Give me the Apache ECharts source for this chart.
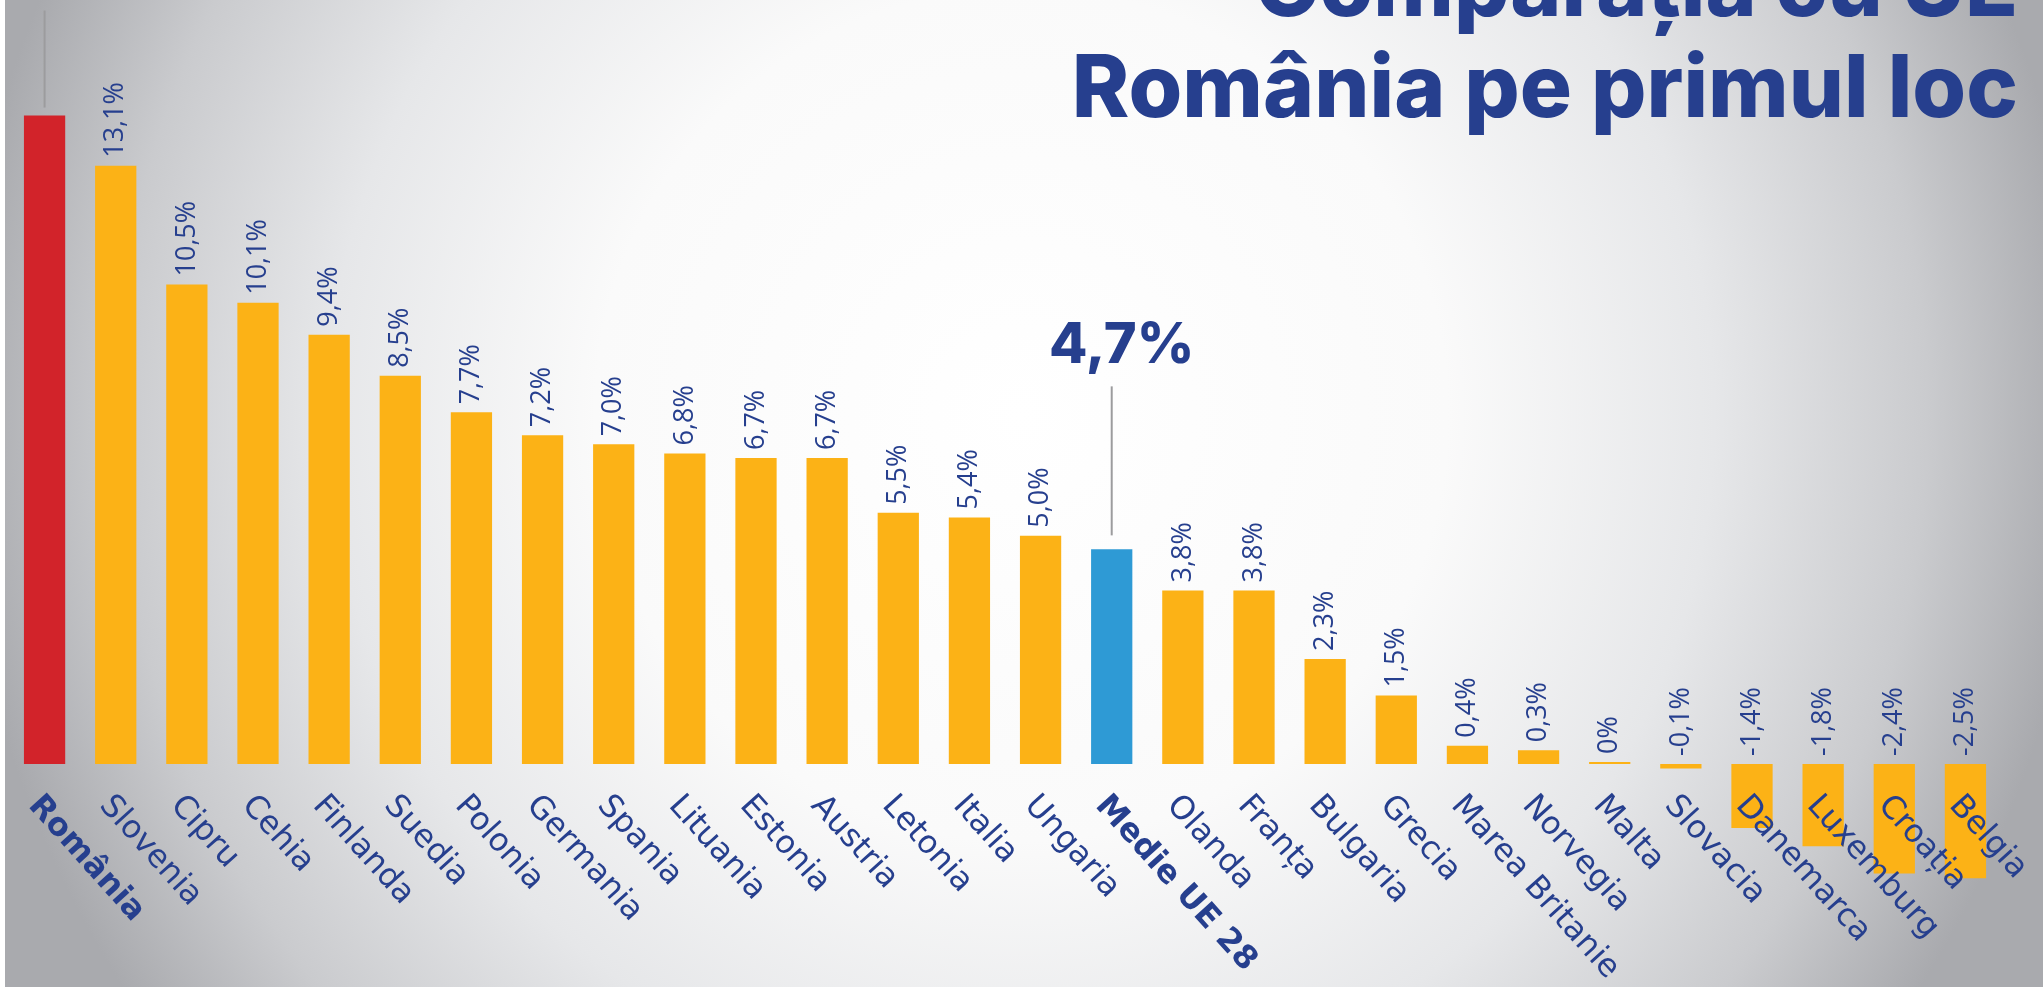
<!DOCTYPE html>
<html>
<head>
<meta charset="utf-8">
<script src="https://cdn.jsdelivr.net/npm/echarts@6/dist/echarts.min.js"></script>
<style>
  html, body { margin: 0; padding: 0; }
  #main { width: 2043px; height: 987px; }
</style>
</head>
<body>
<div id="main"></div>
<script>
// date
var categories = ['România', 'Slovenia', 'Cipru', 'Cehia', 'Finlanda', 'Suedia', 'Polonia',
    'Germania', 'Spania', 'Lituania', 'Estonia', 'Austria', 'Letonia', 'Italia', 'Ungaria',
    'Medie UE 28', 'Olanda', 'Franța', 'Bulgaria', 'Grecia', 'Marea Britanie', 'Norvegia',
    'Malta', 'Slovacia', 'Danemarca', 'Luxemburg', 'Croația', 'Belgia'];
var values = [14.2, 13.1, 10.5, 10.1, 9.4, 8.5, 7.7, 7.2, 7.0, 6.8, 6.7, 6.7, 5.5, 5.4, 5.0,
    4.7, 3.8, 3.8, 2.3, 1.5, 0.4, 0.3, 0, -0.1, -1.4, -1.8, -2.4, -2.5];
var callouts = ['România', 'Medie UE 28'];   // bare cu eticheta mare
var titleLines = ['Comparația cu UE', 'România pe primul loc'];

var BLUE = '#263f8e';
var fmt = function (v) {
    return v === 0 ? '0%' : v.toFixed(1).replace('.', ',') + '%';
};
// lungimea liniei de legatura, in pixeli
var calloutLen = {'România': 97, 'Medie UE 28': 149};
var calloutGap = {'România': 8, 'Medie UE 28': 14};

var chart = echarts.init(document.getElementById('main'));

var option = {
    backgroundColor: {
        type: 'radial', x: 0.5, y: 0.42, r: 1.08,
        colorStops: [
            {offset: 0, color: '#ffffff'},
            {offset: 0.4, color: '#fafafa'},
            {offset: 0.65, color: '#e6e7e9'},
            {offset: 0.85, color: '#cacbce'},
            {offset: 1, color: '#a9aaae'}
        ]
    },
    animation: false,
    graphic: [
        {type: 'rect', left: 0, top: 0, shape: {width: 5, height: 987}, style: {fill: '#ffffff'}},
        {
            type: 'text', x: 2018, y: -10,
            style: {text: titleLines[0], font: '800 87px Inter', fill: BLUE,
                textAlign: 'right', textVerticalAlign: 'middle'}
        },
        {
            type: 'text', x: 2018, y: 91,
            style: {text: titleLines[1], font: '800 87px Inter', fill: BLUE,
                textAlign: 'right', textVerticalAlign: 'middle'}
        }
    ],
    grid: {left: 9, right: 42, top: 79, bottom: 86, containLabel: false, outerBoundsMode: 'none'},
    xAxis: {
        type: 'category',
        data: categories,
        axisLine: {show: false},
        axisTick: {show: false},
        axisLabel: {show: false}
    },
    yAxis: {
        type: 'value', min: -3, max: 15, interval: 1,
        show: false, splitLine: {show: false}
    },
    series: [
        {
            type: 'bar',
            data: values,
            barCategoryGap: '42%',
            barMinHeight: 2,
            itemStyle: {
                color: function (p) {
                    if (p.name === 'România') return '#d2232a';
                    if (p.name === 'Medie UE 28') return '#2e9ad5';
                    return '#fcb216';
                }
            },
            label: {
                show: true,
                position: 'top',
                distance: 8,
                rotate: 90,
                align: 'left',
                verticalAlign: 'middle',
                color: BLUE,
                fontFamily: 'Open Sans',
                fontSize: 27,
                formatter: function (p) {
                    return callouts.indexOf(p.name) >= 0 ? '' : fmt(p.value);
                }
            }
        },
        {
            // numele tarilor, agatate de linia de zero
            type: 'scatter',
            symbolSize: 0,
            z: 4,
            silent: true,
            itemStyle: {opacity: 1},
            data: categories.map(function () { return 0; }),
            label: {
                show: true,
                position: 'bottom',
                distance: 44,
                offset: [-13, 3],
                rotate: -48,
                align: 'left',
                verticalAlign: 'middle',
                opacity: 1,
                color: BLUE,
                fontFamily: 'DejaVu Sans',
                fontSize: 32,
                formatter: function (p) {
                    return callouts.indexOf(p.name) >= 0 ? '{b|' + p.name + '}' : p.name;
                },
                rich: {
                    b: {fontWeight: 'bold', fontFamily: 'DejaVu Sans', fontSize: 32, color: BLUE}
                }
            }
        },
        {
            type: 'custom',
            clip: false,
            z: 5,
            data: callouts.map(function (n) {
                var i = categories.indexOf(n);
                return [i, values[i]];
            }),
            renderItem: function (params, api) {
                var name = callouts[params.dataIndex];
                var p = api.coord([api.value(0), api.value(1)]);
                var y1 = p[1] - calloutGap[name];
                var y2 = y1 - calloutLen[name];
                return {
                    type: 'group',
                    children: [
                        {
                            type: 'line',
                            shape: {x1: p[0], y1: y1, x2: p[0], y2: y2},
                            style: {stroke: '#9c9c9e', lineWidth: 2}
                        },
                        {
                            type: 'text',
                            style: {
                                text: fmt(api.value(1)),
                                x: p[0] + 10, y: y2 - 12,
                                textAlign: 'center', textVerticalAlign: 'bottom',
                                font: '800 56px Inter', fill: BLUE
                            }
                        }
                    ]
                };
            }
        }
    ]
};
chart.setOption(option);
</script>
</body>
</html>
